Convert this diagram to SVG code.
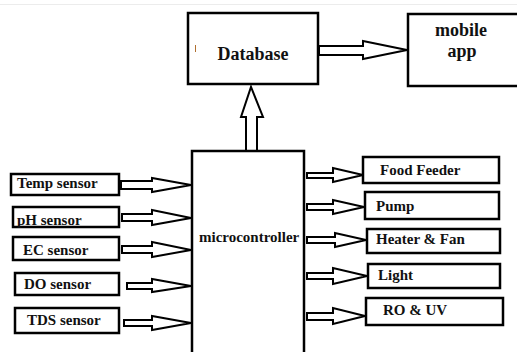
<svg xmlns="http://www.w3.org/2000/svg" width="517" height="352" viewBox="0 0 517 352">
<style>
.box{fill:#fff;stroke:#000;stroke-width:2.5}
.arr{fill:#fff;stroke:#000;stroke-width:2;stroke-linejoin:miter}
.lbl{font-family:"Liberation Serif","Times New Roman",serif;font-weight:bold;font-size:15px;fill:#111}
.big{font-size:18px}
</style>
<rect width="517" height="352" fill="#fff"/>
<line x1="0" y1="4.5" x2="517" y2="4.5" stroke="#ececec" stroke-width="1"/>
<g id="connectors">
<polygon class="arr" points="246,151 246,117 241,117 251,87 263,117 257,117 257,151"/>
<polygon class="arr" points="319,46 363,46 363,41 407,50 363,59 363,55 319,55"/>
<polygon class="arr" points="121,181 152,181 152,178 191,185 152,192 152,189 121,189"/>
<polygon class="arr" points="122,214 152,214 152,210 191,218 152,225 152,221 122,221"/>
<polygon class="arr" points="122,246 152,246 152,242 191,250 152,257 152,253 122,253"/>
<polygon class="arr" points="127,283 152,283 152,279 191,286 152,292 152,289 127,289"/>
<polygon class="arr" points="124,320 152,320 152,316 191,323 152,330 152,326 124,326"/>
<polygon class="arr" points="307,173 333,173 333,168 363,175 333,182 333,178 307,178"/>
<polygon class="arr" points="307,204 333,204 333,200 364,207 333,214 333,210 307,210"/>
<polygon class="arr" points="307,237 335,237 335,233 366,240 335,247 335,243 307,243"/>
<polygon class="arr" points="307,273 333,273 333,268 367,276 333,284 333,279 307,279"/>
<polygon class="arr" points="307,313 333,313 333,308 365,316 333,324 333,320 307,320"/>
</g>
<g id="database">
<rect class="box" x="188" y="13" width="130" height="71"/>
<line x1="195.5" y1="45" x2="195.5" y2="52" stroke="#b07030" stroke-width="1"/>
<text class="lbl big" x="253" y="60" text-anchor="middle">Database</text>
</g>
<g id="mobile-app">
<rect class="box" x="408" y="14" width="115" height="72"/>
<text class="lbl big" x="461" y="36" text-anchor="middle">mobile</text>
<text class="lbl big" x="462" y="57" text-anchor="middle">app</text>
</g>
<g id="microcontroller">
<rect class="box" x="192" y="151" width="112" height="210"/>
<text class="lbl" x="199" y="242">microcontroller</text>
</g>
<g id="temp-sensor">
<rect class="box" x="11" y="174" width="108" height="21"/>
<text class="lbl" x="17" y="188">Temp sensor</text>
</g>
<g id="ph-sensor">
<rect class="box" x="13" y="207" width="106" height="20"/>
<text class="lbl" x="17" y="225">pH sensor</text>
</g>
<g id="ec-sensor">
<rect class="box" x="13" y="237" width="106" height="23"/>
<text class="lbl" x="23" y="255">EC sensor</text>
</g>
<g id="do-sensor">
<rect class="box" x="15" y="273" width="104" height="22"/>
<text class="lbl" x="24" y="289">DO sensor</text>
</g>
<g id="tds-sensor">
<rect class="box" x="15" y="308" width="104" height="25"/>
<text class="lbl" x="27" y="325">TDS sensor</text>
</g>
<g id="food-feeder">
<rect class="box" x="363" y="157" width="136" height="26"/>
<text class="lbl" x="380" y="175">Food Feeder</text>
</g>
<g id="pump">
<rect class="box" x="365" y="192" width="134" height="27"/>
<text class="lbl" x="376" y="211">Pump</text>
</g>
<g id="heater-fan">
<rect class="box" x="367" y="229" width="133" height="24"/>
<text class="lbl" x="376" y="244">Heater &amp; Fan</text>
</g>
<g id="light">
<rect class="box" x="368" y="264" width="132" height="24"/>
<text class="lbl" x="378" y="280">Light</text>
</g>
<g id="ro-uv">
<rect class="box" x="366" y="298" width="137" height="27"/>
<text class="lbl" x="383" y="315">RO &amp; UV</text>
</g>
</svg>
